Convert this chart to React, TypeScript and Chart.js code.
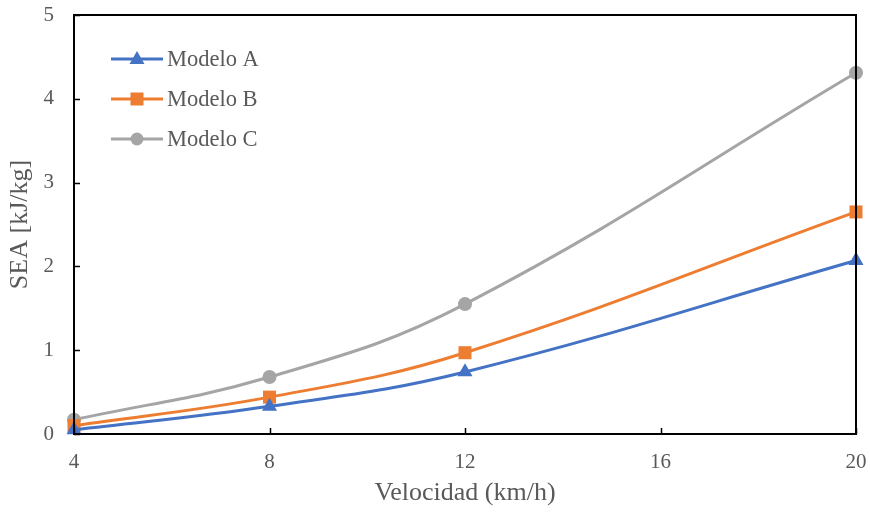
import React, { useEffect, useRef } from "react";
import { Chart, registerables } from "chart.js";

Chart.register(...registerables);

const velocidades = [4, 8, 12, 20];
const modeloA = [0.05, 0.33, 0.74, 2.07];
const modeloB = [0.1, 0.44, 0.97, 2.65];
const modeloC = [0.17, 0.68, 1.55, 4.31];
const seriesNames = ["Modelo A", "Modelo B", "Modelo C"];
const seriesColors = ["#4472C4", "#ED7D31", "#A5A5A5"];
const seriesMarkers = ["triangle", "rect", "circle"];
const xTicks = [4, 8, 12, 16, 20];
const yTicks = [0, 1, 2, 3, 4, 5];

const FONT = "'Liberation Serif', 'Times New Roman', serif";
const TEXT = "#595959";

const frame = {
  id: "frame",
  afterDraw(chart: any) {
    const { ctx, chartArea: a, scales } = chart;
    ctx.save();
    ctx.strokeStyle = "#000";
    ctx.lineWidth = 2;
    ctx.strokeRect(a.left, a.top, a.right - a.left, a.bottom - a.top);
    ctx.lineWidth = 1.5;
    ctx.beginPath();
    for (const v of xTicks) {
      const x = Math.round(scales.x.getPixelForValue(v)) + 0.5;
      ctx.moveTo(x, a.bottom);
      ctx.lineTo(x, a.bottom - 6);
    }
    for (const v of yTicks) {
      const y = Math.round(scales.y.getPixelForValue(v)) + 0.5;
      ctx.moveTo(a.left, y);
      ctx.lineTo(a.left + 6, y);
    }
    ctx.stroke();
    // legend
    const lx = a.left + 37;
    let ly = a.top + 44;
    chart.data.datasets.forEach((ds: any) => {
      ctx.strokeStyle = ds.borderColor;
      ctx.lineWidth = 3;
      ctx.beginPath();
      ctx.moveTo(lx, ly);
      ctx.lineTo(lx + 52, ly);
      ctx.stroke();
      ctx.fillStyle = ds.borderColor;
      const cx = lx + 26;
      ctx.beginPath();
      if (ds.pointStyle === "triangle") {
        ctx.moveTo(cx, ly - 8);
        ctx.lineTo(cx + 7.5, ly + 5);
        ctx.lineTo(cx - 7.5, ly + 5);
        ctx.closePath();
      } else if (ds.pointStyle === "rect") {
        ctx.rect(cx - 6.5, ly - 6.5, 13, 13);
      } else {
        ctx.arc(cx, ly, 6.5, 0, Math.PI * 2);
      }
      ctx.fill();
      ctx.fillStyle = TEXT;
      ctx.font = `22.5px ${FONT}`;
      ctx.textBaseline = "middle";
      ctx.textAlign = "left";
      ctx.fillText(ds.label, lx + 56, ly + 1);
      ly += 40;
    });
    ctx.restore();
  },
};

export default function App() {
  const ref = useRef<HTMLCanvasElement>(null);
  useEffect(() => {
    const values = [modeloA, modeloB, modeloC];
    const radii = [8.7, 9.2, 7];
    const chart = new Chart(ref.current as HTMLCanvasElement, {
      type: "line",
      data: {
        datasets: values.map((vals, i) => ({
          label: seriesNames[i],
          data: velocidades.map((x, j) => ({ x, y: vals[j] })),
          borderColor: seriesColors[i],
          backgroundColor: seriesColors[i],
          borderWidth: 3,
          pointStyle: seriesMarkers[i] as any,
          pointRadius: radii[i],
          pointBorderWidth: 0,
          tension: 0.4,
          clip: false as any,
        })),
      },
      options: {
        animation: false,
        responsive: false,
        layout: { padding: { top: 15, right: 14, left: 0, bottom: 0 } },
        plugins: { legend: { display: false }, tooltip: { enabled: false } },
        scales: {
          x: {
            type: "linear",
            min: 4,
            max: 20,
            afterFit: (s: any) => {
              s.height = 78;
              s.paddingLeft = 0;
              s.paddingRight = 0;
            },
            afterBuildTicks: (s: any) => {
              s.ticks = xTicks.map((v) => ({ value: v }));
            },
            grid: { display: false, drawTicks: false },
            border: { display: false },
            ticks: { padding: 16, color: TEXT, font: { family: FONT, size: 21 } },
            title: {
              display: true,
              text: "Velocidad (km/h)",
              color: TEXT,
              font: { family: FONT, size: 26 },
              padding: { top: 0, bottom: 3 },
            },
          },
          y: {
            type: "linear",
            min: 0,
            max: 5,
            afterFit: (s: any) => {
              s.width = 74;
              s.paddingTop = 0;
              s.paddingBottom = 0;
            },
            afterBuildTicks: (s: any) => {
              s.ticks = yTicks.map((v) => ({ value: v }));
            },
            grid: { display: false, drawTicks: false },
            border: { display: false },
            ticks: { padding: 20, color: TEXT, font: { family: FONT, size: 21 } },
            title: {
              display: true,
              text: "SEA [kJ/kg]",
              color: TEXT,
              font: { family: FONT, size: 26 },
              padding: { top: 5, bottom: 0 },
            },
          },
        },
      },
      plugins: [frame],
    });
    return () => chart.destroy();
  }, []);
  return (
    <div style={{ position: "fixed", left: 0, top: 0, width: 870, height: 512, background: "#fff" }}>
      <canvas ref={ref} width={870} height={512} style={{ width: 870, height: 512, display: "block" }} />
    </div>
  );
}
